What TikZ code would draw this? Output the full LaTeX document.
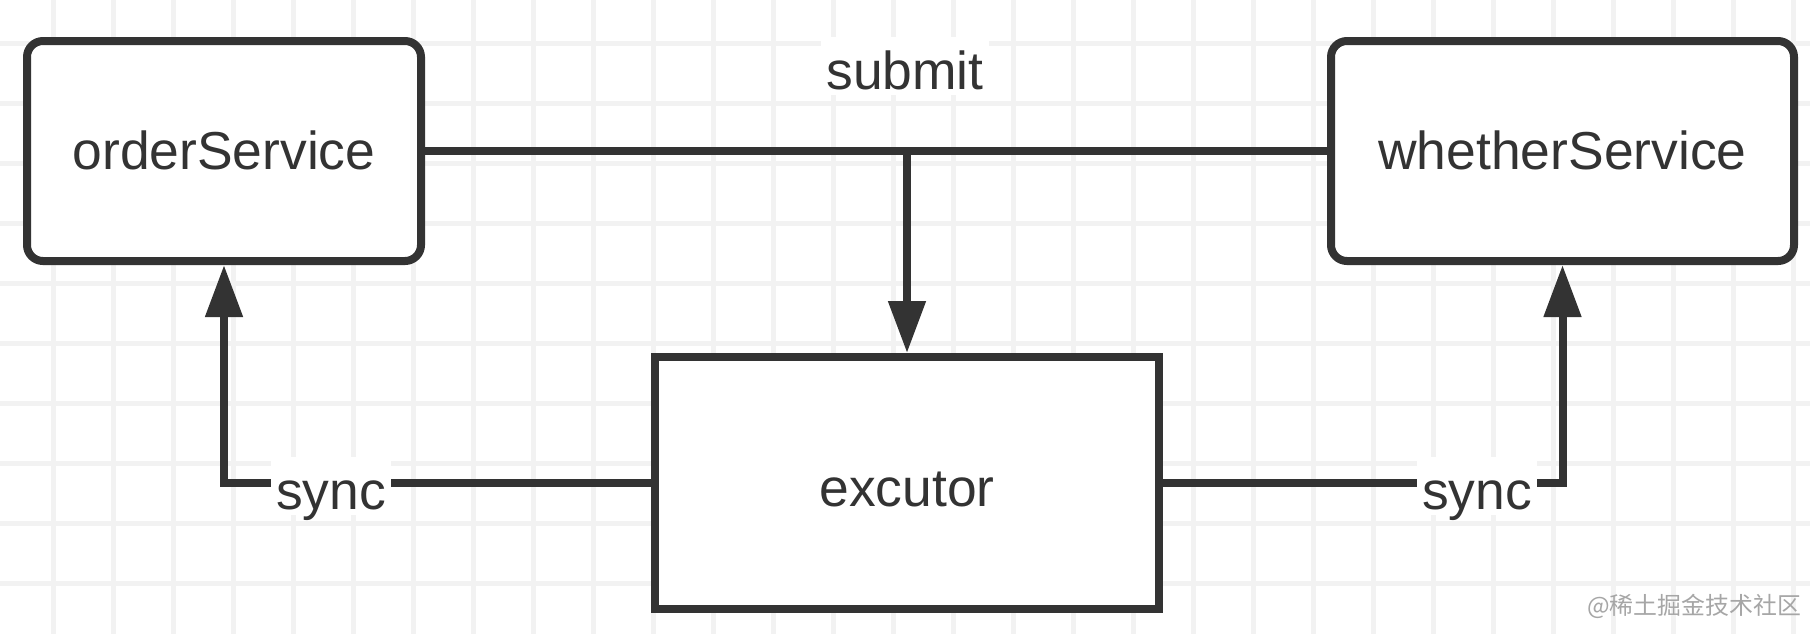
\documentclass[tikz,border=0pt]{standalone}
\usepackage{xcolor}
\usepackage{fontspec}
\setmainfont{Liberation Sans}
\newfontfamily\cjkfont{Noto Sans CJK SC}
\usepackage{tikz}
\usetikzlibrary{arrows.meta, positioning, calc}

\definecolor{ink}{HTML}{333333}
\definecolor{gridgray}{HTML}{F2F2F2}
\definecolor{markgray}{HTML}{A6A6A6}

\begin{document}
\begin{tikzpicture}[
    service/.style={rectangle, draw=ink, line width=0.08cm, rounded corners=0.16cm, fill=white, minimum width=3.94cm, minimum height=2.20cm, text=ink, text height=1.03em, text depth=0pt, font=\fontsize{15.2pt}{18pt}\selectfont},
    worker/.style={rectangle, draw=ink, line width=0.08cm, fill=white, minimum width=5.04cm, minimum height=2.52cm, text=ink, text height=1.36em, text depth=0pt, font=\fontsize{15.2pt}{18pt}\selectfont},
    lbl/.style={fill=white, text=ink, inner xsep=0.05cm, inner ysep=0.06cm, text height=1.32em, text depth=0pt, font=\fontsize{15.2pt}{18pt}\selectfont},
    watermark/.style={text=markgray, inner sep=0pt, font=\fontsize{6.8pt}{8pt}\cjkfont},
    gridline/.style={draw=gridgray, line width=0.05cm},
    link/.style={draw=ink, line width=0.08cm},
    arrow/.style={draw=ink, line width=0.08cm, -{Triangle[length=0.52cm, width=0.36cm]}}
]
% Canvas and grid
\fill[white] (0,0) rectangle (18.10,-6.34);
\useasboundingbox (0,0) rectangle (18.10,-6.34);
\foreach \i in {0,...,29}
    \draw[gridline] ({0.53+0.6*\i},0) -- ({0.53+0.6*\i},-6.34);
\foreach \j in {0,...,9}
    \draw[gridline] (0,{-0.43-0.6*\j}) -- (18.10,{-0.43-0.6*\j});

% Services
\node[service] (order) at (2.24,-1.51) {orderService};
\node[service, minimum width=4.63cm] (weather) at (15.625,-1.51) {whetherService};

% Executor
\node[worker] (exec) at (9.07,-4.83) {excutor};

% Connections
\coordinate (split) at (exec.north |- order.east);
\draw[link] (order.east) -- (weather.west);
\draw[arrow] (split) -- (exec.north);
\draw[arrow] (exec.west) -| (order.south);
\draw[arrow] (exec.east) -| (weather.south);

% Labels
\node[lbl] (submit) at (9.05,-0.66) {submit};
\node[lbl] (syncL) at (3.31,-4.86) {sync};
\node[lbl] (syncR) at (14.77,-4.86) {sync};

% Watermark
\node[watermark] (wm) at (16.94,-6.06) {@稀土掘金技术社区};
\end{tikzpicture}
\end{document}
